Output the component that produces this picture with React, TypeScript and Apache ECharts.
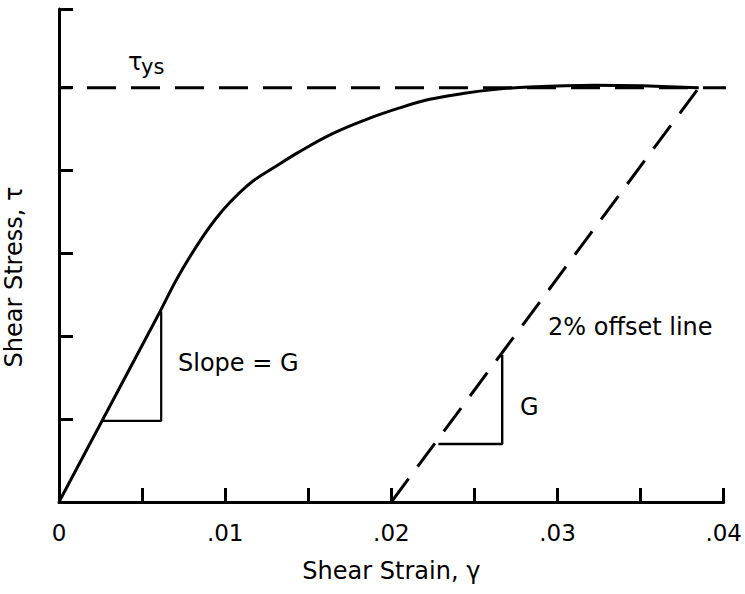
import React, { useEffect, useRef } from "react";
import * as echarts from "echarts";

// Stress-strain curve (strain, stress in arbitrary units, yield = 5)
const curveStrain = [0, 0.0059, 0.0074, 0.0094, 0.0114, 0.0132, 0.0144, 0.0164, 0.0184, 0.0204, 0.0223, 0.0243, 0.0263, 0.0283, 0.0323, 0.0385];
const curveStress = [0, 2.23, 2.8, 3.41, 3.83, 4.07, 4.22, 4.44, 4.61, 4.75, 4.86, 4.93, 4.98, 5.01, 5.03, 5.0];

const yieldStress = 5;
const yieldLineStrain = [0, 0.0406];
const offsetLineStrain = [0.02, 0.0385];
const offsetLineStress = [0, 5];

const slopeTriStrain = [0.0026, 0.00615, 0.00615];
const slopeTriStress = [0.98, 0.98, 2.3];
const offsetTriStrain = [0.02283, 0.02667, 0.02667];
const offsetTriStress = [0.7, 0.7, 1.775];

const FONT = "DejaVu Sans";

const zip = (a: number[], b: number[]) => a.map((v, i) => [v, b[i]]);

export default function App() {
  const ref = useRef<HTMLDivElement>(null);
  useEffect(() => {
    if (!ref.current) return;
    const chart = echarts.init(ref.current, null, { renderer: "svg" });
    const black = "#000";
    chart.setOption({
      animation: false,
      backgroundColor: "#fff",
      grid: { left: 59, right: 15.5, top: 9, bottom: 92, containLabel: false },
      xAxis: {
        type: "value",
        min: 0,
        max: 0.04,
        interval: 0.005,
        splitLine: { show: false },
        axisLine: { show: true, lineStyle: { color: black, width: 3 } },
        axisTick: { show: true, inside: true, length: 14, lineStyle: { color: black, width: 3 } },
        axisLabel: {
          color: black,
          fontFamily: FONT,
          fontSize: 23,
          margin: 19,
          formatter: (v: number) => {
            const m = Math.round(v * 1000);
            if (m % 10 !== 0) return "";
            if (m === 0) return "0";
            return "." + String(Math.round(v * 100)).padStart(2, "0");
          },
        },
        name: "Shear Strain, γ",
        nameLocation: "middle",
        nameGap: 57,
        nameTextStyle: { color: black, fontFamily: FONT, fontSize: 24 },
      },
      yAxis: {
        type: "value",
        min: 0,
        max: 5.95,
        interval: 1,
        splitLine: { show: false },
        axisLine: { show: true, lineStyle: { color: black, width: 3 } },
        axisTick: { show: true, inside: true, length: 14, lineStyle: { color: black, width: 3 } },
        axisLabel: { show: false },
      },
      graphic: [
        {
          type: "text",
          x: 14,
          y: 277,
          rotation: Math.PI / 2,
          style: { text: "Shear Stress, τ", fill: black, font: `24px "${FONT}"`, align: "center", verticalAlign: "middle" },
        },
        {
          type: "text",
          x: 128,
          y: 62,
          style: { text: "τ", fill: black, font: `24px "${FONT}"`, align: "left", verticalAlign: "middle" },
        },
        {
          type: "text",
          x: 141,
          y: 67,
          style: { text: "ys", fill: black, font: `21px "${FONT}"`, align: "left", verticalAlign: "middle" },
        },
        {
          type: "text",
          x: 178,
          y: 363,
          style: { text: "Slope = G", fill: black, font: `24px "${FONT}"`, align: "left", verticalAlign: "middle" },
        },
        {
          type: "text",
          x: 548,
          y: 327,
          style: { text: "2% offset line", fill: black, font: `24px "${FONT}"`, align: "left", verticalAlign: "middle" },
        },
        {
          type: "text",
          x: 520,
          y: 407,
          style: { text: "G", fill: black, font: `24px "${FONT}"`, align: "left", verticalAlign: "middle" },
        },
      ],
      series: [
        {
          type: "line",
          data: zip(curveStrain, curveStress),
          smooth: 0.4,
          showSymbol: false,
          symbol: "none",
          lineStyle: { color: black, width: 3 },
          silent: true,
        },
        {
          type: "line",
          data: zip(yieldLineStrain, [yieldStress, yieldStress]),
          showSymbol: false,
          symbol: "none",
          clip: false,
          lineStyle: { color: black, width: 3, type: [29, 15], dashOffset: 16 },
          silent: true,
        },
        {
          type: "line",
          data: zip(offsetLineStrain, offsetLineStress),
          showSymbol: false,
          symbol: "none",
          lineStyle: { color: black, width: 3, type: [29, 15] },
          silent: true,
        },
        {
          type: "line",
          data: zip(slopeTriStrain, slopeTriStress),
          showSymbol: false,
          symbol: "none",
          lineStyle: { color: black, width: 2.2 },
          silent: true,
        },
        {
          type: "line",
          data: zip(offsetTriStrain, offsetTriStress),
          showSymbol: false,
          symbol: "none",
          lineStyle: { color: black, width: 2.4 },
          silent: true,
        },
      ],
    });
    return () => chart.dispose();
  }, []);
  return <div ref={ref} style={{ position: "absolute", left: 0, top: 0, width: 745, height: 594 }} />;
}
